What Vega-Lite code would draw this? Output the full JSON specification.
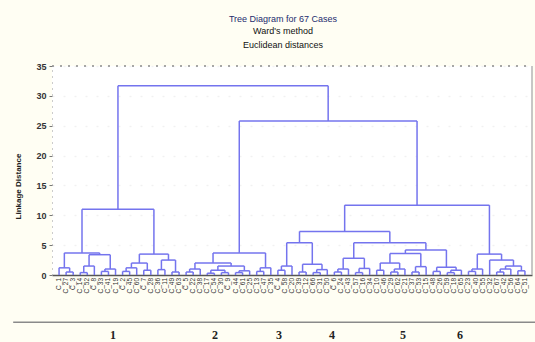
{
  "$schema": "https://vega.github.io/schema/vega-lite/v6.json",
  "width": 480,
  "height": 209,
  "autosize": {"type": "none"},
  "padding": {"left": 52, "top": 66, "right": 3, "bottom": 67},
  "background": "#fffef3",
  "config": {
    "view": {"fill": "white", "stroke": null},
    "axisY": {
      "tickCount": 8,
      "titleFont": "Liberation Sans",
      "titleFontSize": 8,
      "titleFontWeight": "bold",
      "titleColor": "#222222",
      "titleX": -34,
      "titleY": 120,
      "titleAngle": 270,
      "titleAlign": "center",
      "titleBaseline": "middle",
      "labelFont": "Liberation Sans",
      "labelFontSize": 9,
      "labelFontWeight": "bold",
      "labelColor": "#333333",
      "labelPadding": 3,
      "tickSize": 3,
      "tickColor": "#777777",
      "domainColor": "#999999",
      "domainDash": [1, 5],
      "grid": true,
      "gridColor": "#f1f1f1",
      "gridDash": [2, 9],
      "gridWidth": 1.5
    },
    "axisX": {"labels": false, "ticks": false, "grid": false, "domainColor": "#555555", "domainWidth": 1.5}
  },
  "title": {
    "text": "Tree Diagram for 67 Cases",
    "subtitle": ["Ward's method", "Euclidean distances"],
    "font": "Liberation Sans",
    "subtitleFont": "Liberation Sans",
    "fontSize": 9,
    "fontWeight": "normal",
    "color": "#1d2b6e",
    "subtitleFontSize": 9,
    "subtitleColor": "#111111",
    "subtitleLineHeight": 14,
    "subtitlePadding": 3,
    "anchor": "middle",
    "frame": "group",
    "dx": -9,
    "offset": 12
  },
  "datasets": {
    "merges": [
      {"xl": 2, "xr": 3, "h": 0.5, "hl": 0, "hr": 0},
      {"xl": 1, "xr": 2.5, "h": 1.2, "hl": 0, "hr": 0.5},
      {"xl": 4, "xr": 5, "h": 0.4, "hl": 0, "hr": 0},
      {"xl": 4.5, "xr": 6, "h": 1.5, "hl": 0.4, "hr": 0},
      {"xl": 7, "xr": 8, "h": 0.6, "hl": 0, "hr": 0},
      {"xl": 7.5, "xr": 9, "h": 1.0, "hl": 0.6, "hr": 0},
      {"xl": 5.25, "xr": 8.25, "h": 3.4, "hl": 1.5, "hr": 1.0},
      {"xl": 1.75, "xr": 6.75, "h": 3.7, "hl": 1.2, "hr": 3.4},
      {"xl": 10, "xr": 11, "h": 0.6, "hl": 0, "hr": 0},
      {"xl": 10.5, "xr": 12, "h": 1.2, "hl": 0.6, "hr": 0},
      {"xl": 13, "xr": 14, "h": 0.8, "hl": 0, "hr": 0},
      {"xl": 11.25, "xr": 13.5, "h": 2.0, "hl": 1.2, "hr": 0.8},
      {"xl": 15, "xr": 16, "h": 0.9, "hl": 0, "hr": 0},
      {"xl": 17, "xr": 18, "h": 0.5, "hl": 0, "hr": 0},
      {"xl": 15.5, "xr": 17.5, "h": 2.5, "hl": 0.9, "hr": 0.5},
      {"xl": 12.375, "xr": 16.5, "h": 3.5, "hl": 2.0, "hr": 2.5},
      {"xl": 4.25, "xr": 14.438, "h": 11.0, "hl": 3.7, "hr": 3.5},
      {"xl": 19, "xr": 20, "h": 0.5, "hl": 0, "hr": 0},
      {"xl": 19.5, "xr": 21, "h": 1.0, "hl": 0.5, "hr": 0},
      {"xl": 22, "xr": 23, "h": 0.3, "hl": 0, "hr": 0},
      {"xl": 24, "xr": 25, "h": 0.4, "hl": 0, "hr": 0},
      {"xl": 22.5, "xr": 24.5, "h": 0.8, "hl": 0.3, "hr": 0.4},
      {"xl": 26, "xr": 27, "h": 0.4, "hl": 0, "hr": 0},
      {"xl": 26.5, "xr": 28, "h": 0.7, "hl": 0.4, "hr": 0},
      {"xl": 23.5, "xr": 27.25, "h": 1.5, "hl": 0.8, "hr": 0.7},
      {"xl": 20.25, "xr": 25.375, "h": 2.0, "hl": 1.0, "hr": 1.5},
      {"xl": 29, "xr": 30, "h": 0.6, "hl": 0, "hr": 0},
      {"xl": 29.5, "xr": 31, "h": 1.2, "hl": 0.6, "hr": 0},
      {"xl": 22.813, "xr": 30.25, "h": 3.7, "hl": 2.0, "hr": 1.2},
      {"xl": 32, "xr": 33, "h": 0.8, "hl": 0, "hr": 0},
      {"xl": 32.5, "xr": 34, "h": 1.5, "hl": 0.8, "hr": 0},
      {"xl": 35, "xr": 36, "h": 0.5, "hl": 0, "hr": 0},
      {"xl": 37, "xr": 38, "h": 0.4, "hl": 0, "hr": 0},
      {"xl": 37.5, "xr": 39, "h": 0.9, "hl": 0.4, "hr": 0},
      {"xl": 35.5, "xr": 38.25, "h": 1.8, "hl": 0.5, "hr": 0.9},
      {"xl": 33.25, "xr": 36.875, "h": 5.4, "hl": 1.5, "hr": 1.8},
      {"xl": 40, "xr": 41, "h": 0.5, "hl": 0, "hr": 0},
      {"xl": 40.5, "xr": 42, "h": 1.0, "hl": 0.5, "hr": 0},
      {"xl": 43, "xr": 44, "h": 0.4, "hl": 0, "hr": 0},
      {"xl": 43.5, "xr": 45, "h": 1.1, "hl": 0.4, "hr": 0},
      {"xl": 41.25, "xr": 44.25, "h": 2.8, "hl": 1.0, "hr": 1.1},
      {"xl": 46, "xr": 47, "h": 0.8, "hl": 0, "hr": 0},
      {"xl": 48, "xr": 49, "h": 0.5, "hl": 0, "hr": 0},
      {"xl": 48.5, "xr": 50, "h": 1.0, "hl": 0.5, "hr": 0},
      {"xl": 46.5, "xr": 49.25, "h": 2.0, "hl": 0.8, "hr": 1.0},
      {"xl": 51, "xr": 52, "h": 0.5, "hl": 0, "hr": 0},
      {"xl": 51.5, "xr": 53, "h": 1.4, "hl": 0.5, "hr": 0},
      {"xl": 47.875, "xr": 52.25, "h": 3.6, "hl": 2.0, "hr": 1.4},
      {"xl": 54, "xr": 55, "h": 0.6, "hl": 0, "hr": 0},
      {"xl": 56, "xr": 57, "h": 0.4, "hl": 0, "hr": 0},
      {"xl": 56.5, "xr": 58, "h": 0.8, "hl": 0.4, "hr": 0},
      {"xl": 54.5, "xr": 57.25, "h": 1.3, "hl": 0.6, "hr": 0.8},
      {"xl": 50.063, "xr": 55.875, "h": 4.2, "hl": 3.6, "hr": 1.3},
      {"xl": 42.75, "xr": 52.969, "h": 5.4, "hl": 2.8, "hr": 4.2},
      {"xl": 35.063, "xr": 47.859, "h": 7.3, "hl": 5.4, "hr": 5.4},
      {"xl": 59, "xr": 60, "h": 0.6, "hl": 0, "hr": 0},
      {"xl": 59.5, "xr": 61, "h": 1.0, "hl": 0.6, "hr": 0},
      {"xl": 63, "xr": 64, "h": 0.5, "hl": 0, "hr": 0},
      {"xl": 63.5, "xr": 65, "h": 1.0, "hl": 0.5, "hr": 0},
      {"xl": 66, "xr": 67, "h": 0.7, "hl": 0, "hr": 0},
      {"xl": 64.25, "xr": 66.5, "h": 1.5, "hl": 1.0, "hr": 0.7},
      {"xl": 62, "xr": 65.375, "h": 2.5, "hl": 0, "hr": 1.5},
      {"xl": 60.25, "xr": 63.688, "h": 3.5, "hl": 1.0, "hr": 2.5},
      {"xl": 41.461, "xr": 61.969, "h": 11.7, "hl": 7.3, "hr": 3.5},
      {"xl": 26.531, "xr": 51.715, "h": 25.8, "hl": 3.7, "hr": 11.7},
      {"xl": 9.344, "xr": 39.123, "h": 31.7, "hl": 11.0, "hr": 25.8}
    ],
    "leaves": [
      {"pos": 1, "case": "C_1"}, {"pos": 2, "case": "C_27"}, {"pos": 3, "case": "C_3"}, {"pos": 4, "case": "C_14"},
      {"pos": 5, "case": "C_52"}, {"pos": 6, "case": "C_8"}, {"pos": 7, "case": "C_33"}, {"pos": 8, "case": "C_41"},
      {"pos": 9, "case": "C_19"}, {"pos": 10, "case": "C_2"}, {"pos": 11, "case": "C_45"}, {"pos": 12, "case": "C_60"},
      {"pos": 13, "case": "C_7"}, {"pos": 14, "case": "C_28"}, {"pos": 15, "case": "C_36"}, {"pos": 16, "case": "C_11"},
      {"pos": 17, "case": "C_49"}, {"pos": 18, "case": "C_63"}, {"pos": 19, "case": "C_5"}, {"pos": 20, "case": "C_22"},
      {"pos": 21, "case": "C_38"}, {"pos": 22, "case": "C_17"}, {"pos": 23, "case": "C_54"}, {"pos": 24, "case": "C_30"},
      {"pos": 25, "case": "C_9"}, {"pos": 26, "case": "C_44"}, {"pos": 27, "case": "C_61"}, {"pos": 28, "case": "C_25"},
      {"pos": 29, "case": "C_13"}, {"pos": 30, "case": "C_47"}, {"pos": 31, "case": "C_35"}, {"pos": 32, "case": "C_4"},
      {"pos": 33, "case": "C_58"}, {"pos": 34, "case": "C_20"}, {"pos": 35, "case": "C_39"}, {"pos": 36, "case": "C_12"},
      {"pos": 37, "case": "C_66"}, {"pos": 38, "case": "C_31"}, {"pos": 39, "case": "C_50"}, {"pos": 40, "case": "C_6"},
      {"pos": 41, "case": "C_24"}, {"pos": 42, "case": "C_43"}, {"pos": 43, "case": "C_57"}, {"pos": 44, "case": "C_16"},
      {"pos": 45, "case": "C_34"}, {"pos": 46, "case": "C_10"}, {"pos": 47, "case": "C_46"}, {"pos": 48, "case": "C_29"},
      {"pos": 49, "case": "C_62"}, {"pos": 50, "case": "C_21"}, {"pos": 51, "case": "C_37"}, {"pos": 52, "case": "C_53"},
      {"pos": 53, "case": "C_15"}, {"pos": 54, "case": "C_48"}, {"pos": 55, "case": "C_26"}, {"pos": 56, "case": "C_59"},
      {"pos": 57, "case": "C_18"}, {"pos": 58, "case": "C_65"}, {"pos": 59, "case": "C_23"}, {"pos": 60, "case": "C_40"},
      {"pos": 61, "case": "C_55"}, {"pos": 62, "case": "C_32"}, {"pos": 63, "case": "C_67"}, {"pos": 64, "case": "C_42"},
      {"pos": 65, "case": "C_56"}, {"pos": 66, "case": "C_64"}, {"pos": 67, "case": "C_51"}
    ],
    "clusters": [
      {"pos": 8.64, "label": "1"},
      {"pos": 23.09, "label": "2"},
      {"pos": 32.15, "label": "3"},
      {"pos": 39.66, "label": "4"},
      {"pos": 49.72, "label": "5"},
      {"pos": 57.79, "label": "6"}
    ]
  },
  "layer": [
    {
      "data": {"values": [{}]},
      "mark": {"type": "rule", "color": "#8a8a8a", "strokeWidth": 1.5, "strokeDash": [2, 6]},
      "encoding": {
        "x": {"datum": 0, "type": "quantitative", "title": "", "scale": {"domain": [0, 68], "nice": false, "zero": false}},
        "x2": {"datum": 68},
        "y": {"datum": 35, "type": "quantitative", "title": "Linkage Distance", "scale": {"domain": [0, 35], "nice": false}}
      }
    },
    {
      "data": {"name": "merges"},
      "mark": {"type": "rule", "color": "#7474ee", "strokeWidth": 1.5},
      "encoding": {
        "x": {"field": "xl", "type": "quantitative", "title": "", "scale": {"domain": [0, 68], "nice": false, "zero": false}},
        "x2": {"field": "xr"},
        "y": {"field": "h", "type": "quantitative", "title": "Linkage Distance", "scale": {"domain": [0, 35], "nice": false}}
      }
    },
    {
      "data": {"name": "merges"},
      "mark": {"type": "rule", "color": "#7474ee", "strokeWidth": 1.5},
      "encoding": {
        "x": {"field": "xl", "type": "quantitative", "title": "", "scale": {"domain": [0, 68], "nice": false, "zero": false}},
        "y": {"field": "hl", "type": "quantitative", "title": "Linkage Distance", "scale": {"domain": [0, 35], "nice": false}},
        "y2": {"field": "h"}
      }
    },
    {
      "data": {"name": "merges"},
      "mark": {"type": "rule", "color": "#7474ee", "strokeWidth": 1.5},
      "encoding": {
        "x": {"field": "xr", "type": "quantitative", "title": "", "scale": {"domain": [0, 68], "nice": false, "zero": false}},
        "y": {"field": "hr", "type": "quantitative", "title": "Linkage Distance", "scale": {"domain": [0, 35], "nice": false}},
        "y2": {"field": "h"}
      }
    },
    {
      "data": {"values": [{}]},
      "mark": {"type": "rule", "color": "#b5b5b5", "strokeWidth": 1.5},
      "encoding": {
        "x": {"datum": 68, "type": "quantitative", "title": "", "scale": {"domain": [0, 68], "nice": false, "zero": false}},
        "y": {"datum": 0, "type": "quantitative", "title": "Linkage Distance", "scale": {"domain": [0, 35], "nice": false}},
        "y2": {"datum": 35}
      }
    },
    {
      "data": {"name": "leaves"},
      "mark": {"type": "text", "angle": 270, "align": "right", "baseline": "middle", "fontSize": 6.5, "font": "Liberation Sans", "color": "#333333"},
      "encoding": {
        "x": {"field": "pos", "type": "quantitative", "title": "", "scale": {"domain": [0, 68], "nice": false, "zero": false}},
        "y": {"datum": -0.5, "type": "quantitative", "title": "Linkage Distance", "scale": {"domain": [0, 35], "nice": false}},
        "text": {"field": "case"}
      }
    },
    {
      "data": {"values": [{}]},
      "mark": {"type": "rule", "color": "#8a8a8a", "strokeWidth": 1.5},
      "encoding": {
        "x": {"datum": -5.5, "type": "quantitative", "title": "", "scale": {"domain": [0, 68], "nice": false, "zero": false}},
        "x2": {"datum": 69},
        "y": {"datum": -7.9, "type": "quantitative", "title": "Linkage Distance", "scale": {"domain": [0, 35], "nice": false}}
      }
    },
    {
      "data": {"name": "clusters"},
      "mark": {"type": "text", "align": "center", "baseline": "middle", "fontSize": 12, "font": "Liberation Serif", "fontWeight": "bold", "color": "#222222"},
      "encoding": {
        "x": {"field": "pos", "type": "quantitative", "title": "", "scale": {"domain": [0, 68], "nice": false, "zero": false}},
        "y": {"datum": -10.0, "type": "quantitative", "title": "Linkage Distance", "scale": {"domain": [0, 35], "nice": false}},
        "text": {"field": "label"}
      }
    }
  ]
}
